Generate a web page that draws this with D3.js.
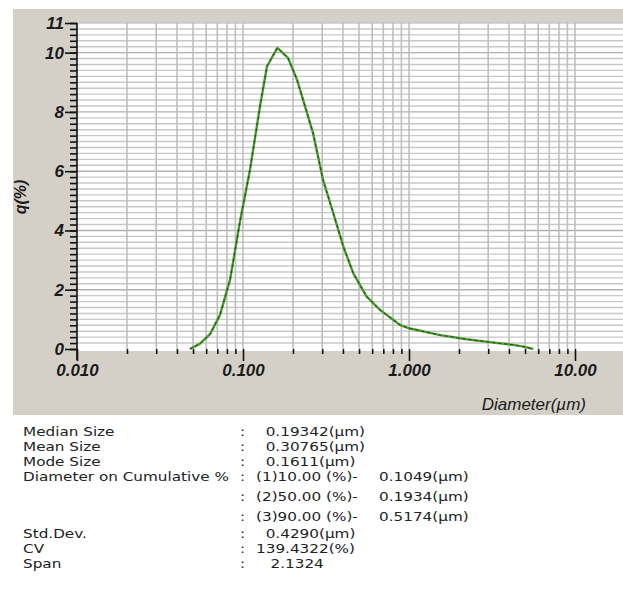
<!DOCTYPE html>
<html>
<head>
<meta charset="utf-8">
<script src="https://cdn.jsdelivr.net/npm/d3@7"></script>
<style>
  body { margin: 0; background: #fff; }
  svg { display: block; }
</style>
</head>
<body>
<div id="chart"></div>
<script>
// particle size distribution, q(%) vs diameter (um)
const diameters = [0.0479, 0.0551, 0.0633, 0.0727, 0.0835, 0.0959, 0.1102, 0.1266, 0.1395, 0.1611,
  0.1867, 0.2115, 0.2641, 0.3034, 0.350, 0.402, 0.462, 0.556, 0.669, 0.883,
  1.000, 1.54, 2.22, 3.07, 4.25, 4.88, 5.61]
const qValues = [0, 0.18, 0.5, 1.15, 2.33, 4.3, 6.05, 8.19, 9.54, 10.16,
  9.82, 9.09, 7.29, 5.71, 4.58, 3.46, 2.55, 1.77, 1.32, 0.81,
  0.70, 0.47, 0.33, 0.23, 0.14, 0.08, 0]

const xMajorTicks = [0.01, 0.1, 1, 10]
const xTickLabels = ["0.010", "0.100", "1.000", "10.00"]
const yMajorTicks = [0, 2, 4, 6, 8, 10, 11]

const statLabels = ["Median Size", "Mean Size", "Mode Size", "Diameter on Cumulative %", "", "", "Std.Dev.", "CV", "Span"]
const statValues = ["  0.19342(µm)", "  0.30765(µm)", "  0.1611(µm)", "(1)10.00 (%)-", "(2)50.00 (%)-", "(3)90.00 (%)-",
  "  0.4290(µm)", "139.4322(%)", "   2.1324"]
const cumulativeValues = ["", "", "", "0.1049(µm)", "0.1934(µm)", "0.5174(µm)", "", "", ""]

const width = 623
const height = 608
const plotLeft = 77
const plotTop = 23
const plotBottom = 349
const plotRight = 623
const axisFont = "'Liberation Sans', Arial, sans-serif"

const svg = d3.select("#chart").append("svg").attr("width", width).attr("height", height)

svg.append("rect")
  .attr("x", 13).attr("y", 9)
  .attr("width", width - 13).attr("height", 406)
  .attr("fill", "#d4d0c8")

svg.append("rect")
  .attr("x", plotLeft).attr("y", plotTop)
  .attr("width", plotRight - plotLeft).attr("height", plotBottom - plotTop + 2)
  .attr("fill", "#fff")

const x = d3.scaleLog().domain([0.01, 10]).range([plotLeft, 575])
const y = d3.scaleLinear().domain([0, 11]).range([plotBottom, plotTop])

// all minor positions 2..9 in each decade
const xMinorTicks = []
xMajorTicks.slice(0, 3).forEach((m) => {
  d3.range(2, 10).forEach((k) => xMinorTicks.push(m * k))
})
const yMinorTicks = d3.range(0, 56).map((i) => i / 5)

const grid = svg.append("g")
grid.selectAll(".hg")
  .data(yMinorTicks.filter((v) => v > 0))
  .join("line")
  .attr("x1", plotLeft).attr("x2", plotRight)
  .attr("y1", (d) => y(d)).attr("y2", (d) => y(d))
  .attr("stroke", (d) => (Math.abs(d % 2) < 1e-6 ? "#b0b0b0" : "#c8c8c8"))
  .attr("stroke-width", 1.4)

grid.selectAll(".vg")
  .data(xMinorTicks.concat([0.1, 1, 10]))
  .join("line")
  .attr("x1", (d) => x(d)).attr("x2", (d) => x(d))
  .attr("y1", plotTop).attr("y2", plotBottom)
  .attr("stroke", "#bfbfbf")
  .attr("stroke-width", 1.6)

const line = d3.line()
  .x((d, i) => x(diameters[i]))
  .y((d) => y(d))

svg.append("path")
  .datum(qValues)
  .attr("d", line)
  .attr("fill", "none")
  .attr("stroke", "#4a9c2e")
  .attr("stroke-width", 2.4)
  .attr("stroke-linejoin", "round")

svg.append("path")
  .datum(qValues)
  .attr("d", line)
  .attr("fill", "none")
  .attr("stroke", "#1f3a14")
  .attr("stroke-width", 0.9)
  .attr("stroke-dasharray", "3 3")

// y axis
svg.append("g")
  .attr("transform", `translate(${plotLeft},0)`)
  .call(d3.axisLeft(y).tickValues(yMinorTicks).tickSize(7).tickFormat("").tickSizeOuter(0))
  .call((g) => g.select(".domain").remove())

const yAxis = svg.append("g")
  .attr("transform", `translate(${plotLeft},0)`)
  .call(d3.axisLeft(y).tickValues(yMajorTicks).tickSize(12).tickPadding(1).tickFormat(d3.format("d")))
yAxis.select(".domain").remove()

svg.append("line")
  .attr("x1", plotLeft).attr("x2", plotLeft)
  .attr("y1", plotTop).attr("y2", 360)
  .attr("stroke", "#111").attr("stroke-width", 1.6)

// x axis
svg.append("g")
  .attr("transform", `translate(0,${plotBottom})`)
  .call(d3.axisBottom(x).tickValues(xMinorTicks).tickSize(5).tickFormat(""))
  .call((g) => g.select(".domain").remove())

const xAxis = svg.append("g")
  .attr("transform", `translate(0,${plotBottom})`)
  .call(d3.axisBottom(x).tickValues(xMajorTicks).tickSize(12).tickPadding(3)
    .tickFormat((d, i) => xTickLabels[i]))
xAxis.select(".domain").remove()

svg.selectAll(".tick line").attr("stroke", "#111").attr("stroke-width", 1.6)
svg.selectAll(".tick text")
  .attr("fill", "#1a1a1a")
  .style("font-family", axisFont)
  .style("font-size", "17px")
  .style("font-weight", "bold")
  .style("font-style", "italic")

svg.append("text")
  .attr("transform", "translate(26,197) rotate(-90)")
  .attr("text-anchor", "middle")
  .style("font-family", axisFont)
  .style("font-size", "16px")
  .style("font-weight", "bold")
  .style("font-style", "italic")
  .attr("fill", "#1a1a1a")
  .text("q(%)")

svg.append("text")
  .attr("x", 586).attr("y", 410)
  .attr("text-anchor", "end")
  .style("font-family", axisFont)
  .style("font-size", "17px")
  .style("font-style", "italic")
  .attr("fill", "#1a1a1a")
  .text("Diameter(µm)")

// stats table, font squeezed vertically so the tight rows don't collide
const rowY = (i) => 436 + 15 * i + 5 * Math.min(Math.max(i - 3, 0), 2) + (i >= 6 ? 1.5 : 0)
const stats = svg.append("g")
  .style("font-family", "'DejaVu Sans', sans-serif")
  .style("font-size", "12.6px")
  .attr("fill", "#222")

const addColumn = (cls, data, xPos) => {
  stats.selectAll("." + cls).data(data).join("text")
    .attr("class", cls)
    .attr("transform", (d, i) => `translate(${xPos},${rowY(i)}) scale(1.21,1)`)
    .attr("xml:space", "preserve")
    .style("white-space", "pre")
    .text((d) => d)
}
addColumn("lab", statLabels, 23)
addColumn("colon", statLabels.map(() => ":"), 240)
addColumn("val", statValues, 256)
addColumn("cum", cumulativeValues, 379)
</script>
</body>
</html>
